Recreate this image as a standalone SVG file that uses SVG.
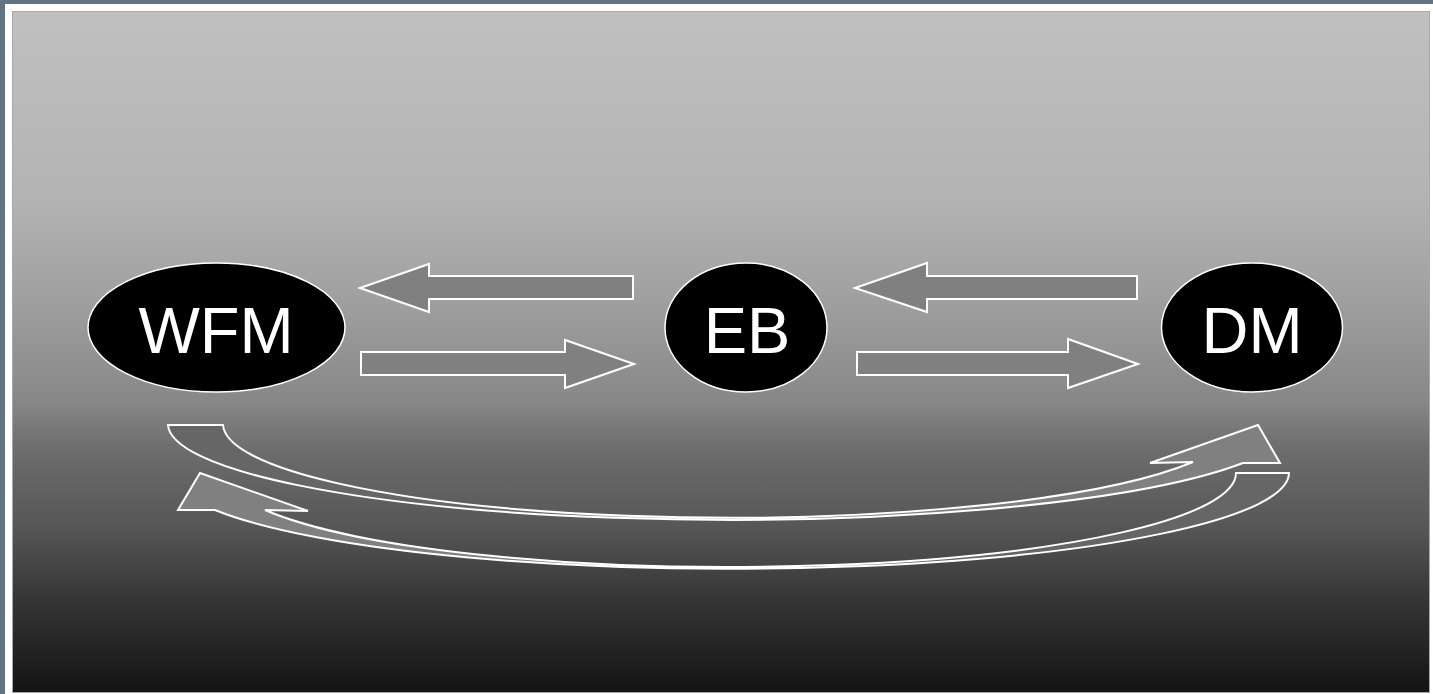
<svg xmlns="http://www.w3.org/2000/svg" width="1433" height="694" viewBox="0 0 1433 694">
  <defs>
    <linearGradient id="bg" x1="0" y1="0" x2="0" y2="1">
      <stop offset="0" stop-color="#c0c0c0"/>
      <stop offset="0.28" stop-color="#b3b3b3"/>
      <stop offset="0.42" stop-color="#a0a0a0"/>
      <stop offset="0.57" stop-color="#888888"/>
      <stop offset="0.645" stop-color="#6c6c6c"/>
      <stop offset="0.755" stop-color="#575757"/>
      <stop offset="0.865" stop-color="#353535"/>
      <stop offset="1" stop-color="#141414"/>
    </linearGradient>
  </defs>
  <style>
    .node { fill: #000000; stroke: #ffffff; stroke-width: 1.5; }
    .label { fill: #ffffff; font-family: "Liberation Sans", Arial, sans-serif; font-size: 65px; text-anchor: middle; }
    .arrow { fill: #808080; stroke: #ffffff; stroke-width: 2; stroke-linejoin: miter; }
    .band { fill: #808080; stroke: none; }
    .dark { fill: #666666; stroke: none; }
    .outline { fill: none; stroke: #ffffff; stroke-width: 2; }
  </style>
  <rect x="0" y="0" width="1433" height="694" fill="#647380"/>
  <rect x="5" y="4" width="1428" height="690" fill="#ffffff"/>
  <rect x="12.5" y="11.5" width="1417" height="681" fill="url(#bg)" stroke="#a8a8a8" stroke-width="1"/>

  <g id="connectors">
    <path class="arrow" d="M633,276 L429,276 L429,264 L360,288 L429,312 L429,299 L633,299 Z"/>
    <path class="arrow" d="M361,352 L565,352 L565,340 L634,364 L565,388 L565,375 L361,375 Z"/>
    <path class="arrow" d="M1137,276 L927,276 L927,263 L855,288 L927,312 L927,299 L1137,299 Z"/>
    <path class="arrow" d="M857,352 L1068,352 L1068,339 L1138,364 L1068,388 L1068,375 L857,375 Z"/>

    <g id="curved-wfm-dm">
      <path class="band" d="M168,425 L223,425 A507,94 0 0,0 1193,462 L1150,463 L1258,425 L1280,463 L1243,463 A562,96 0 0,1 168,425 Z"/>
      <path class="dark" d="M168,425 L223,425 A507,94 0 0,0 730,519 L730,521 A562,96 0 0,1 168,425 Z"/>
      <path class="outline" d="M168,425 L223,425 A507,94 0 0,0 1193,462 L1150,463 L1258,425 L1280,463 L1243,463 A562,96 0 0,1 168,425 Z"/>
    </g>
    <g id="curved-dm-wfm">
      <path class="band" d="M1289,473 L1236,473 A506,94 0 0,1 265,510 L308,511 L200,473 L178,510 L215,510 A559,96 0 0,0 1289,473 Z"/>
      <path class="dark" d="M1289,473 L1236,473 A506,94 0 0,1 730,567 L730,569 A559,96 0 0,0 1289,473 Z"/>
      <path class="outline" d="M1289,473 L1236,473 A506,94 0 0,1 265,510 L308,511 L200,473 L178,510 L215,510 A559,96 0 0,0 1289,473 Z"/>
    </g>
  </g>

  <g id="node-wfm">
    <ellipse class="node" cx="216.5" cy="327.5" rx="128.5" ry="64.5"/>
    <text class="label" x="216" y="353">WFM</text>
  </g>
  <g id="node-eb">
    <ellipse class="node" cx="746" cy="327.5" rx="81" ry="64.5"/>
    <text class="label" x="747" y="353">EB</text>
  </g>
  <g id="node-dm">
    <ellipse class="node" cx="1252" cy="327.5" rx="90.5" ry="64.5"/>
    <text class="label" x="1252" y="353">DM</text>
  </g>
</svg>
